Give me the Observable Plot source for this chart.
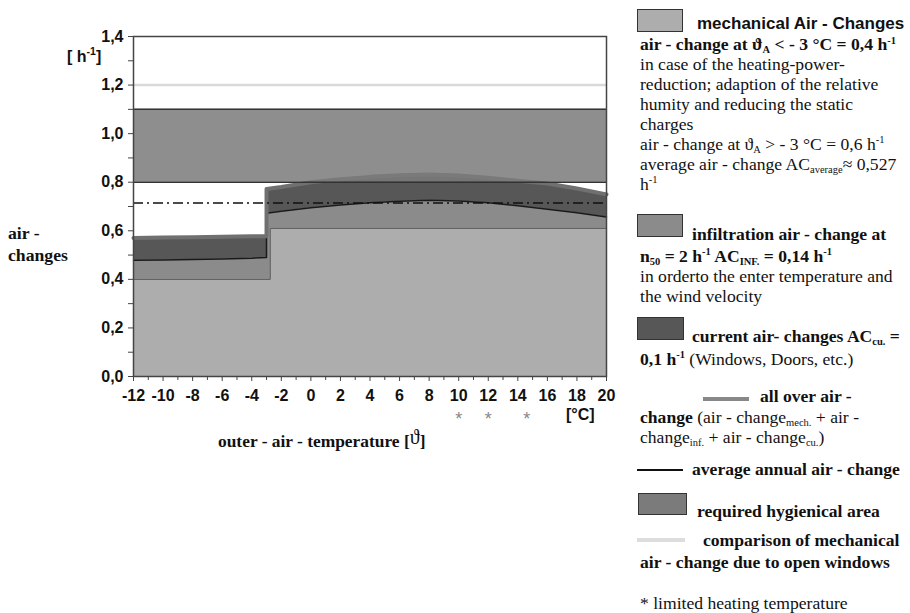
<!DOCTYPE html>
<html><head><meta charset="utf-8">
<script src="https://cdn.jsdelivr.net/npm/d3@7"></script>
<script src="https://cdn.jsdelivr.net/npm/@observablehq/plot@0.6"></script>
<style>
body{margin:0;background:#fff;}
#wrap{position:relative;width:910px;height:613px;overflow:hidden;font-family:"Liberation Serif","Times New Roman",serif;color:#111;}
#wrap svg{position:absolute;left:0;top:0;}
.t{position:absolute;white-space:nowrap;font-size:17.6px;line-height:20px;}
.b{font-weight:bold;}
.s{font-family:"Liberation Sans",Arial,sans-serif;}
.sw{position:absolute;border:1.5px solid #333;box-sizing:border-box;}
.ln{position:absolute;}
.sub{font-size:10.5px;position:relative;top:3px;}
.sup{font-size:10.5px;position:relative;top:-7px;}
</style></head>
<body>
<div id="wrap"></div>
<script>
// ---- data ----
const temps   = [-12,-10,-8,-6,-4,-3,-3,-2,0,2,4,6,8,10,12,14,16,18,20];
const infTop  = [0.479,0.480,0.482,0.484,0.487,0.490,0.672,0.680,0.695,0.706,0.715,0.722,0.726,0.723,0.715,0.703,0.689,0.674,0.657];
const cuTop   = [0.570,0.572,0.573,0.575,0.577,0.578,0.772,0.780,0.800,0.812,0.822,0.829,0.832,0.828,0.818,0.806,0.795,0.774,0.750];
const mechTemps = [-12,-2.75,-2.75,20];
const mechTop   = [0.40,0.40,0.61,0.61];
const averageAnnual = 0.714;
const hygienicLow = 0.8, hygienicHigh = 1.1;
const openWindows = 1.2;
const starTemps = [10, 12, 14.6];
const yMajor = [0,0.2,0.4,0.6,0.8,1.0,1.2,1.4];
const yMinor = [0.1,0.3,0.5,0.7,0.9,1.1,1.3];
const xMajor = [-12,-10,-8,-6,-4,-2,0,2,4,6,8,10,12,14,16,18,20];
const xMinor = [-11,-9,-7,-5,-3,-1,1,3,5,7,9,11,13,15,17,19];

const layered = temps.map((t,i)=>({t, inf: infTop[i], cu: cuTop[i]}));
const mech = mechTemps.map((t,i)=>({t, v: mechTop[i]}));
const fmt = d => d.toFixed(1).replace(".", ",");
const axisFont = {fontFamily:"Liberation Sans, Arial, sans-serif", fontWeight:"bold", fontSize:16, fill:"#111"};

const chart = Plot.plot({
  width: 910, height: 613,
  marginLeft: 133, marginRight: 304, marginTop: 36, marginBottom: 237,
  style: {background:"transparent", overflow:"visible"},
  x: {domain:[-12,20], label:null},
  y: {domain:[0,1.4], label:null},
  marks: [
    Plot.areaY(layered, {x:"t", y1:0, y2:"cu", fill:"#575757"}),
    Plot.areaY(layered, {x:"t", y1:0, y2:"inf", fill:"#8b8b8b"}),
    Plot.areaY(mech, {x:"t", y1:0, y2:"v", fill:"#adadad"}),
    Plot.line(mech, {x:"t", y:"v", stroke:"#555", strokeWidth:1}),
    Plot.line(layered, {x:"t", y:"inf", stroke:"#1a1a1a", strokeWidth:1.5}),
    Plot.line(layered, {x:"t", y:"cu", stroke:"#707070", strokeWidth:4}),
    Plot.rect([0], {x1:-12, x2:20, y1:hygienicLow, y2:hygienicHigh, fill:"#7b7b7b", fillOpacity:0.86}),
    Plot.ruleY([hygienicLow, hygienicHigh], {stroke:"#333", strokeWidth:1.5}),
    Plot.ruleY([openWindows], {stroke:"#d9d9d9", strokeWidth:2.5}),
    Plot.ruleY([averageAnnual], {x1:-12, x2:20, stroke:"#111", strokeWidth:1.5, strokeDasharray:"10,4,2,4"}),
    Plot.frame({stroke:"#444", strokeWidth:1.5}),
    Plot.axisY({ticks:yMinor, tickSize:5, tickFormat:()=>"", label:null, stroke:"#444"}),
    Plot.axisY({ticks:yMajor, tickSize:5, tickPadding:5, tickFormat:fmt, label:null, stroke:"#444", ...axisFont}),
    Plot.axisX({ticks:xMinor, tickSize:4, tickFormat:()=>"", label:null, stroke:"#444"}),
    Plot.axisX({ticks:xMajor, tickSize:5, tickPadding:8, tickFormat:d=>String(d), label:null, stroke:"#444", ...axisFont}),
    Plot.text(starTemps, {x:d=>d, frameAnchor:"bottom", dy:48, text:()=>"*", fill:"#888", fontSize:18, fontFamily:"Liberation Sans, Arial, sans-serif"})
  ]
});
const wrap = document.getElementById("wrap");
wrap.appendChild(chart);

const html = `
<div class="t s b" style="left:67px;top:47px;font-size:16px;">[ h<span class="sup">-1</span>]</div>
<div class="t b" style="left:8px;top:223px;font-size:17.7px;">air -</div>
<div class="t b" style="left:8px;top:245px;font-size:17.7px;">changes</div>
<div class="t s b" style="left:566px;top:405px;font-size:16px;">[°C]</div>
<div class="t b" style="left:218px;top:430px;font-size:17.4px;">outer - air - temperature [<span style="font-size:20px;font-weight:normal;position:relative;top:-3px;">ϑ</span>]</div>

<div class="sw" style="left:637px;top:9px;width:46px;height:23px;background:#adadad;"></div>
<div class="t s b" style="left:697px;top:16px;font-size:17px;line-height:15px;">mechanical Air - Changes</div>
<div class="t b" style="left:640px;top:36px;line-height:17px;">air - change at ϑ<span class="sub">A</span> &lt; - 3 °C = 0,4 h<span class="sup" style="top:-6px;">-1</span></div>
<div class="t" style="left:640px;top:54px;">in case of the heating-power-</div>
<div class="t" style="left:640px;top:74px;">reduction; adaption of the relative</div>
<div class="t" style="left:640px;top:94px;">humity and reducing the static</div>
<div class="t" style="left:640px;top:114px;">charges</div>
<div class="t" style="left:640px;top:134px;">air - change at ϑ<span class="sub">A</span> &gt; - 3 °C = 0,6 h<span class="sup">-1</span></div>
<div class="t" style="left:640px;top:154px;">average air - change AC<span class="sub">average</span>≈ 0,527</div>
<div class="t" style="left:640px;top:174px;">h<span class="sup">-1</span></div>

<div class="sw" style="left:637px;top:214px;width:46px;height:23px;background:#8b8b8b;"></div>
<div class="t b" style="left:692px;top:224px;">infiltration air - change at</div>
<div class="t b" style="left:640px;top:246px;">n<span class="sub">50</span> = 2 h<span class="sup">-1</span> AC<span class="sub">INF.</span> = 0,14 h<span class="sup">-1</span></div>
<div class="t" style="left:640px;top:266px;">in orderto the enter temperature and</div>
<div class="t" style="left:640px;top:286px;">the wind velocity</div>

<div class="sw" style="left:637px;top:317px;width:47px;height:23px;background:#575757;"></div>
<div class="t b" style="left:692px;top:326px;">current air- changes AC<span class="sub">cu.</span> =</div>
<div class="t" style="left:640px;top:349px;"><b>0,1 h<span class="sup">-1</span></b> (Windows, Doors, etc.)</div>

<div class="ln" style="left:703px;top:397px;width:46px;height:4px;background:#888;"></div>
<div class="t b" style="left:760px;top:386px;">all over air -</div>
<div class="t" style="left:640px;top:407px;"><b>change</b> (air - change<span class="sub">mech.</span> + air -</div>
<div class="t" style="left:640px;top:427px;">change<span class="sub">inf.</span> + air - change<span class="sub">cu.</span>)</div>

<div class="ln" style="left:637px;top:469px;width:46px;height:2px;background:#111;"></div>
<div class="t b" style="left:692px;top:459px;">average annual air - change</div>

<div class="sw" style="left:638px;top:493px;width:49px;height:22px;background:#7b7b7b;"></div>
<div class="t b" style="left:697px;top:501px;">required  hygienical area</div>

<div class="ln" style="left:637px;top:538px;width:48px;height:4px;background:#ddd;"></div>
<div class="t b" style="left:703px;top:530px;">comparison of  mechanical</div>
<div class="t b" style="left:640px;top:552px;">air - change due  to open windows</div>

<div class="t" style="left:640px;top:593px;">* limited heating temperature</div>
`;
wrap.insertAdjacentHTML("beforeend", html);
</script>
</body></html>
